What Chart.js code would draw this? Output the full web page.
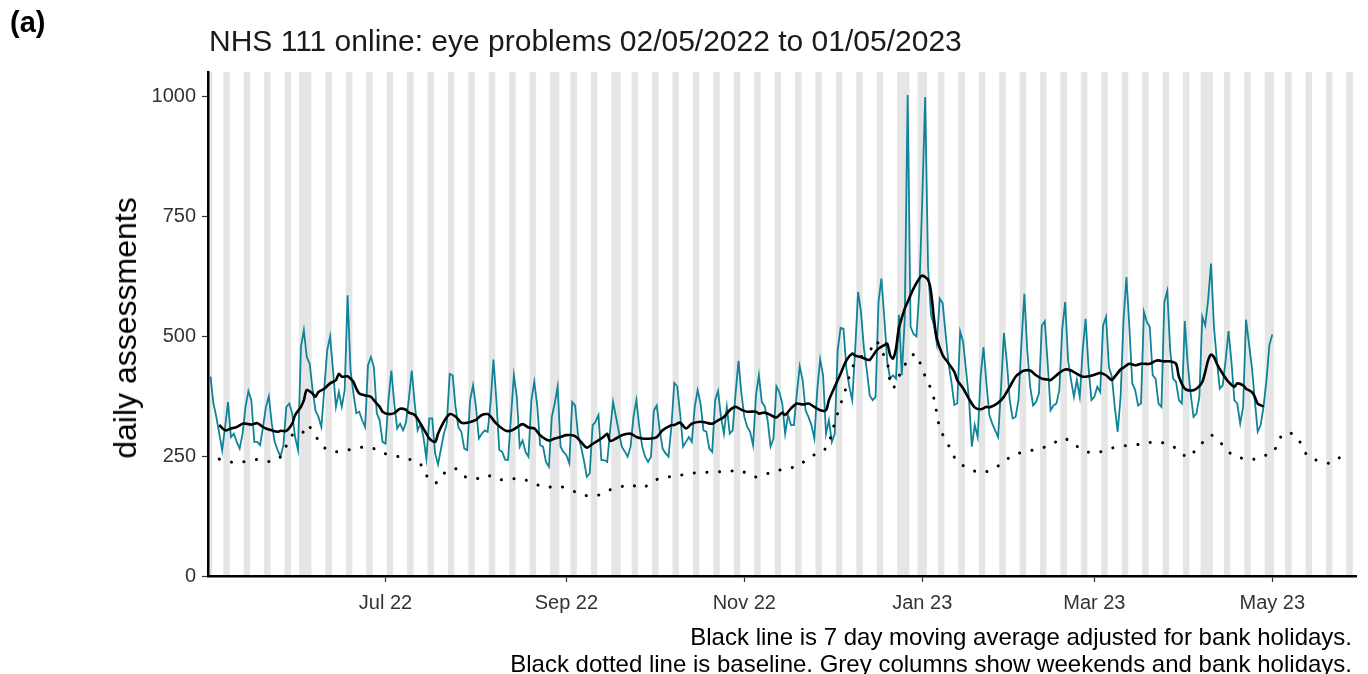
<!DOCTYPE html>
<html>
<head>
<meta charset="utf-8">
<script src="https://cdn.jsdelivr.net/npm/chart.js@4"></script>
<style>
  body { margin: 0; background: #fff; font-family: "Liberation Sans", Arial, sans-serif; }
  #wrap { position: relative; width: 1368px; height: 674px; overflow: hidden; }
  #chart { position: absolute; left: 0; top: 0; }
  .txt { position: absolute; white-space: nowrap; color: #000; line-height: 1; }
  #panel { left: 10px; top: 8px; font-size: 29px; font-weight: bold; }
  #title { left: 209px; top: 26px; font-size: 30px; color: #1a1a1a; }
  #ylab { left: 125px; top: 328px; font-size: 32px; transform: translate(-50%, -50%) rotate(-90deg); }
  #foot { right: 16px; top: 623px; font-size: 24px; text-align: right; line-height: 27px; }
</style>
</head>
<body>
<div id="wrap">
  <canvas id="chart" width="1368" height="674"></canvas>
  <div class="txt" id="panel">(a)</div>
  <div class="txt" id="title">NHS 111 online: eye problems 02/05/2022 to 01/05/2023</div>
  <div class="txt" id="ylab">daily assessments</div>
  <div class="txt" id="foot">Black line is 7 day moving average adjusted for bank holidays.<br>Black dotted line is baseline. Grey columns show weekends and bank holidays.</div>
</div>
<script>
// day 0 = 2 May 2022, one value per day up to 1 May 2023
const START = Date.UTC(2022, 4, 2);

const DAILY = [
  416, 360, 332, 297, 262, 311, 363, 290, 297, 280, 266, 297, 353, 386, 367, 280, 280, 273, 311, 353,
  375, 318, 280, 263, 249, 273, 353, 360, 339, 290, 263, 478, 513, 457, 443, 388, 345, 332, 311, 390,
  471, 500, 429, 353, 384, 353, 388, 586, 429, 381, 340, 343, 325, 311, 440, 457, 436, 340, 325, 280,
  276, 367, 429, 360, 308, 318, 304, 320, 370, 429, 360, 304, 318, 290, 245, 329, 329, 256, 233, 265,
  297, 318, 422, 419, 353, 310, 301, 266, 263, 367, 398, 353, 287, 297, 304, 301, 360, 452, 367, 263,
  259, 243, 242, 332, 419, 374, 270, 283, 259, 249, 367, 405, 356, 273, 270, 238, 228, 332, 360, 395,
  270, 259, 252, 235, 363, 356, 294, 270, 242, 207, 214, 315, 322, 336, 242, 242, 238, 304, 363, 332,
  301, 270, 260, 249, 270, 332, 367, 311, 270, 249, 238, 249, 346, 356, 304, 266, 256, 249, 311, 403,
  396, 338, 270, 280, 290, 280, 353, 388, 360, 304, 301, 266, 259, 367, 386, 332, 297, 353, 297, 304,
  381, 449, 381, 332, 311, 301, 273, 377, 419, 363, 354, 325, 270, 287, 396, 384, 360, 297, 336, 315,
  315, 381, 438, 409, 346, 332, 315, 287, 388, 452, 419, 297, 325, 280, 297, 471, 518, 516, 433, 395,
  367, 471, 593, 551, 475, 429, 377, 367, 374, 572, 621, 538, 447, 412, 419, 412, 545, 419, 538, 1004,
  520, 505, 500, 595, 785, 1000, 642, 545, 524, 485, 579, 569, 506, 444, 405, 357, 360, 510, 489, 430,
  372, 270, 315, 290, 416, 478, 402, 336, 318, 304, 290, 391, 507, 447, 367, 329, 332, 367, 485, 589,
  471, 395, 356, 363, 381, 523, 532, 443, 346, 356, 360, 388, 516, 572, 450, 409, 374, 409, 374, 471,
  537, 436, 367, 374, 395, 384, 523, 541, 436, 416, 353, 301, 374, 534, 624, 520, 402, 388, 356, 360,
  551, 530, 520, 419, 412, 360, 353, 572, 595, 471, 412, 405, 367, 360, 532, 443, 381, 332, 339, 374,
  541, 523, 576, 652, 520, 450, 391, 398, 450, 511, 447, 367, 360, 318, 353, 535, 485, 436, 367, 301,
  315, 353, 409, 482, 504
];

// 7 day moving average (read at irregular days)
const MA_DAYS = [
  3, 5, 7, 9, 11, 12, 14, 16, 18, 19, 21, 23, 24, 26, 28, 29, 31, 32, 33, 35,
  36, 37, 39, 41, 43, 44, 45, 47, 48, 49, 50, 51, 53, 55, 56, 58, 59, 61, 63, 65,
  67, 68, 70, 72, 74, 75, 77, 78, 80, 82, 84, 86, 88, 91, 93, 95, 96, 98, 101, 103,
  105, 107, 109, 111, 113, 116, 118, 120, 122, 125, 127, 129, 131, 133, 135, 136, 137, 139, 141, 144,
  146, 148, 151, 153, 155, 158, 159, 161, 163, 165, 168, 170, 172, 174, 176, 178, 180, 182, 184, 187,
  188, 190, 192, 194, 196, 197, 199, 201, 203, 205, 207, 209, 211, 212, 214, 216, 218, 220, 221, 223,
  225, 226, 228, 229, 231, 232, 233, 234, 235, 236, 238, 239, 241, 243, 244, 246, 247, 248, 249, 251,
  253, 255, 256, 258, 259, 260, 262, 264, 266, 267, 269, 271, 272, 274, 276, 278, 279, 281, 283, 285,
  287, 288, 291, 293, 295, 297, 299, 301, 304, 305, 307, 309, 310, 312, 313, 315, 317, 319, 320, 322,
  324, 325, 327, 329, 331, 332, 334, 336, 338, 340, 342, 343, 344, 345, 347, 349, 351, 352, 354, 355,
  357, 358, 359, 361
];
const MA_VALUES = [
  315, 304, 308, 311, 318, 318, 316, 319, 311, 308, 304, 301, 303, 303, 318, 336, 353, 367, 388, 381,
  374, 384, 391, 402, 409, 422, 416, 417, 412, 405, 391, 381, 377, 374, 367, 353, 343, 338, 340, 349,
  347, 341, 336, 318, 297, 287, 280, 297, 322, 338, 333, 320, 320, 326, 336, 338, 333, 318, 304, 303,
  310, 317, 310, 308, 294, 283, 287, 290, 294, 292, 280, 268, 276, 283, 292, 297, 282, 287, 294, 297,
  290, 287, 287, 290, 304, 315, 315, 320, 308, 318, 322, 320, 318, 325, 332, 346, 353, 347, 343, 343,
  339, 341, 336, 331, 341, 336, 350, 360, 358, 360, 353, 346, 346, 367, 395, 422, 450, 464, 460, 457,
  452, 451, 468, 475, 482, 485, 461, 454, 475, 517, 558, 572, 600, 621, 627, 618, 593, 538, 496, 461,
  444, 426, 409, 392, 381, 370, 352, 348, 353, 352, 357, 367, 374, 395, 416, 426, 429, 429, 419, 412,
  410, 409, 424, 431, 429, 422, 416, 417, 422, 424, 419, 409, 416, 431, 435, 443, 440, 443, 443, 443,
  449, 450, 448, 448, 443, 416, 391, 387, 391, 405, 450, 462, 457, 443, 422, 405, 395, 402, 398, 391,
  384, 374, 360, 354
];

// baseline (dotted)
const BASE_DAYS = [
  3, 6, 8, 12, 16, 21, 24, 26, 28, 31, 33, 36, 38, 42, 47, 51, 55, 59, 63, 68,
  72, 74, 77, 80, 84, 87, 91, 95, 98, 103, 107, 111, 115, 119, 124, 128, 132, 136, 140, 144,
  148, 152, 156, 160, 164, 169, 173, 178, 182, 186, 190, 194, 198, 202, 206, 210, 212, 214, 216, 218,
  220, 222, 223, 226, 228, 230, 232, 233, 234, 236, 238, 240, 242, 244, 246, 248, 249, 250, 252, 254,
  256, 260, 264, 268, 272, 275, 280, 284, 288, 292, 295, 299, 303, 307, 311, 316, 320, 324, 328, 332,
  335, 338, 341, 343, 346, 349, 353, 357, 360, 364, 366, 368, 371, 374, 376, 380, 384, 388
];
const BASE_VALUES = [
  244, 240, 237, 239, 243, 239, 249, 272, 294, 294, 315, 293, 273, 260, 263, 268, 268, 257, 251, 244,
  233, 210, 194, 214, 224, 208, 203, 210, 201, 203, 202, 193, 185, 188, 178, 169, 167, 178, 185, 190,
  184, 199, 206, 209, 214, 216, 217, 219, 219, 207, 212, 220, 224, 233, 250, 261, 280, 320, 358, 395,
  435, 452, 457, 470, 491, 470, 445, 405, 392, 417, 440, 458, 462, 430, 405, 370, 340, 310, 284, 262,
  239, 225, 216, 223, 238, 252, 260, 266, 273, 287, 280, 263, 257, 263, 270, 273, 276, 280, 275, 263,
  248, 265, 284, 294, 280, 259, 247, 243, 250, 257, 279, 298, 296, 275, 252, 240, 236, 251
];

const BANK_HOLIDAYS = [
  "2022-05-02", "2022-06-02", "2022-06-03", "2022-08-29", "2022-09-19",
  "2022-12-26", "2022-12-27", "2023-01-02", "2023-04-07", "2023-04-10", "2023-05-01"
];

const TICK_DATES = ["2022-07-01", "2022-09-01", "2022-11-01", "2023-01-01", "2023-03-01", "2023-05-01"];
const TICK_LABELS = ["Jul 22", "Sep 22", "Nov 22", "Jan 23", "Mar 23", "May 23"];
const Y_TICKS = [0, 250, 500, 750, 1000];

const X_MIN = -0.86;
const X_MAX = 392.7;
const Y_MAX = 1052;

function dayOf(s) {
  const [y, m, d] = s.split("-").map(Number);
  return Math.round((Date.UTC(y, m - 1, d) - START) / 86400000);
}

const holidayDays = BANK_HOLIDAYS.map(dayOf);
let greyDays = [];
for (let d = 0; d <= 392; d++) {
  const wd = new Date(START + d * 86400000).getUTCDay();
  if (wd == 0 || wd == 6 || holidayDays.includes(d)) greyDays.push(d);
}

const tickDays = TICK_DATES.map(dayOf);

const chart = new Chart(document.getElementById("chart"), {
  type: "line",
  data: {
    datasets: [
      {
        label: "daily",
        data: DAILY.map((v, i) => ({ x: i, y: v })),
        borderColor: "#0f8397",
        borderWidth: 1.8,
        pointRadius: 0,
        tension: 0,
        order: 2,
      },
      {
        label: "moving average",
        data: MA_DAYS.map((d, i) => ({ x: d, y: MA_VALUES[i] })),
        borderColor: "#000",
        borderWidth: 2.6,
        pointRadius: 0,
        tension: 0.3,
        order: 1,
      },
      {
        label: "baseline",
        data: BASE_DAYS.map((d, i) => ({ x: d, y: BASE_VALUES[i] })),
        borderColor: "#000",
        borderWidth: 3,
        borderDash: [0.1, 12.5],
        borderCapStyle: "round",
        pointRadius: 0,
        tension: 0.4,
        order: 0,
      },
      {
        type: "bar",
        label: "weekends",
        data: greyDays.map((d) => ({ x: d, y: [0, Y_MAX] })),
        backgroundColor: "#e5e5e5",
        borderWidth: 0,
        barPercentage: 1,
        categoryPercentage: 1,
        order: 10,
      },
    ],
  },
  options: {
    responsive: false,
    animation: false,
    events: [],
    layout: { padding: { left: 0, top: 72, right: 12, bottom: 0 } },
    plugins: { legend: { display: false }, tooltip: { enabled: false } },
    scales: {
      x: {
        type: "linear",
        offset: false,
        min: X_MIN,
        max: X_MAX,
        afterBuildTicks: (scale) => {
          scale.ticks = tickDays.map((v) => ({ value: v }));
        },
        afterFit: (scale) => {
          scale.height = 98;
        },
        ticks: {
          autoSkip: false,
          maxRotation: 0,
          padding: 9,
          color: "#333",
          font: { family: "Liberation Sans", size: 20 },
          callback: (v) => TICK_LABELS[tickDays.indexOf(v)],
        },
        grid: { z: 1, offset: false, drawOnChartArea: false, drawTicks: true, tickLength: 6, tickColor: "#333", tickWidth: 1.2 },
        border: { z: 1, display: true, color: "#000", width: 2.5 },
      },
      y: {
        min: 0,
        max: Y_MAX,
        afterBuildTicks: (scale) => {
          scale.ticks = Y_TICKS.map((v) => ({ value: v }));
        },
        afterFit: (scale) => {
          scale.width = 208;
        },
        ticks: {
          padding: 6,
          color: "#333",
          font: { family: "Liberation Sans", size: 20 },
          callback: (v) => String(v),
        },
        grid: { z: 1, offset: false, drawOnChartArea: false, drawTicks: true, tickLength: 6, tickColor: "#333", tickWidth: 1.2 },
        border: { z: 1, display: true, color: "#000", width: 2.5 },
      },
    },
  },
});
</script>
</body>
</html>
